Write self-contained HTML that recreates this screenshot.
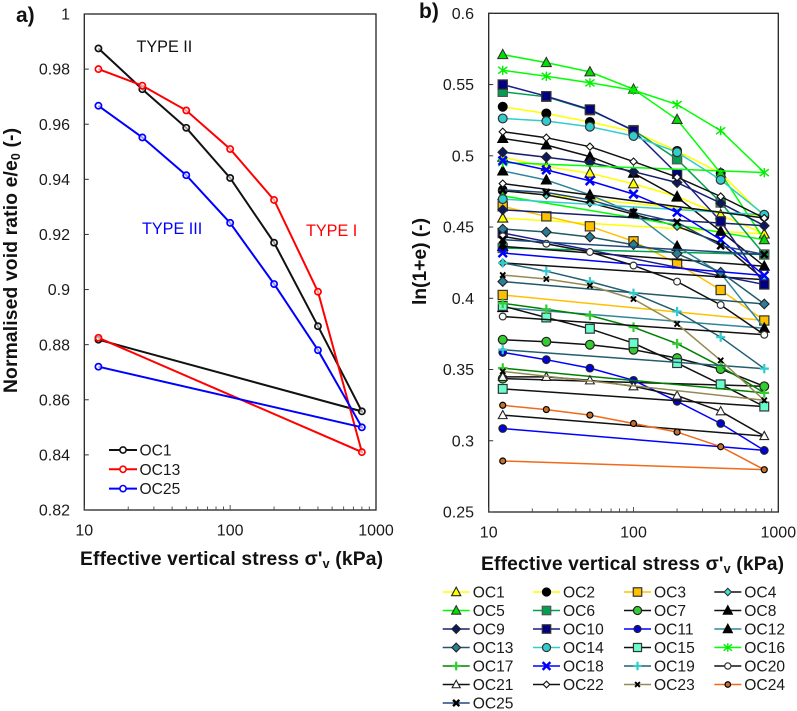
<!DOCTYPE html>
<html lang="en">
<head>
<meta charset="utf-8">
<title>Void ratio versus effective vertical stress</title>
<style>
html,body{margin:0;padding:0;background:#fff;}
svg{display:block;font-family:"Liberation Sans",Arial,sans-serif;fill:#1a1a1a;}
.tick{font-size:16px;}
.title{font-size:19.3px;font-weight:bold;fill:#111;}
.panel{font-size:21px;font-weight:bold;fill:#111;}
.lg{font-size:15.6px;}
</style>
</head>
<body>
<svg id="fig" width="797" height="711" viewBox="0 0 797 711" xmlns="http://www.w3.org/2000/svg">
  <rect x="0" y="0" width="797" height="711" fill="#fff"/>
  <text class="panel" x="16" y="22">a)</text>
  <text class="panel" x="419" y="18">b)</text>
  <text class="title" transform="translate(17,393) rotate(-90)" x="0" y="0" textLength="265">Normalised void ratio e/e<tspan font-size="12.5" dy="3">0</tspan><tspan dy="-3"> (-)</tspan></text>
  <text class="title" transform="translate(426,305) rotate(-90)" x="0" y="0" textLength="87">ln(1+e) (-)</text>
  <text class="title" x="80" y="565" textLength="303">Effective vertical stress σ'<tspan font-size="12.5" dy="3">v</tspan><tspan dy="-3"> (kPa)</tspan></text>
  <text class="title" x="481" y="570" textLength="303">Effective vertical stress σ'<tspan font-size="12.5" dy="3">v</tspan><tspan dy="-3"> (kPa)</tspan></text>
  <text x="136.5" y="52" font-size="16.2" fill="#111">TYPE II</text>
  <text x="142" y="234" font-size="16.2" fill="#0000ff">TYPE III</text>
  <text x="306" y="236" font-size="16.2" fill="#ff0000">TYPE I</text>
  <g id="plotA"></g>
  <g id="plotB"></g>
  <g id="legendA"></g>
  <g id="legendB"></g>
</svg>
<script>
// ---- shared x values (loading path, then unloading back to 12.5 kPa)
const stress = [12.5, 25, 50, 100, 200, 400, 800, 12.5];
const xTickLabels = [10, 100, 1000];

// ---- panel a data
const normalisedOC1 = [0.9875, 0.9727, 0.9587, 0.9405, 0.917, 0.8867, 0.8558, 0.8818];
const normalisedOC13 = [0.98, 0.974, 0.965, 0.951, 0.9325, 0.8992, 0.841, 0.8825];
const normalisedOC25 = [0.9667, 0.9552, 0.9415, 0.9242, 0.902, 0.878, 0.85, 0.872];
const yTicksA = [0.82, 0.84, 0.86, 0.88, 0.9, 0.92, 0.94, 0.96, 0.98, 1];
const seriesNamesA = ["OC1", "OC13", "OC25"];
const seriesValuesA = [normalisedOC1, normalisedOC13, normalisedOC25];

// ---- panel b data
const OC1 = [0.499, 0.4924, 0.4878, 0.4803, 0.4714, 0.4586, 0.4451, 0.4563];
const OC2 = [0.5344, 0.5297, 0.5237, 0.517, 0.5034, 0.4878, 0.4575, 0.4756];
const OC3 = [0.4645, 0.4575, 0.4505, 0.44, 0.4244, 0.4058, 0.3844, 0.4023];
const OC4 = [0.4755, 0.4725, 0.467, 0.459, 0.4505, 0.4388, 0.413, 0.4248];
const OC5 = [0.571, 0.5654, 0.5589, 0.5467, 0.5255, 0.4878, 0.4411, 0.4719];
const OC6 = [0.5449, 0.5414, 0.532, 0.518, 0.4976, 0.4672, 0.4307, 0.4353];
const OC7 = [0.3709, 0.3695, 0.3674, 0.3639, 0.358, 0.3503, 0.3382, 0.3436];
const OC8 = [0.5122, 0.5076, 0.4994, 0.4878, 0.471, 0.447, 0.4225, 0.4365];
const OC9 = [0.5025, 0.499, 0.4952, 0.4889, 0.4812, 0.4668, 0.4509, 0.4621];
const OC10 = [0.55, 0.5418, 0.5325, 0.5176, 0.4873, 0.454, 0.4097, 0.4458];
const OC11 = [0.362, 0.3569, 0.351, 0.3424, 0.3277, 0.3121, 0.2932, 0.3086];
const OC12 = [0.4894, 0.483, 0.4726, 0.4598, 0.4365, 0.4175, 0.379, 0.3935];
const OC13 = [0.4486, 0.4465, 0.443, 0.4376, 0.4313, 0.4183, 0.396, 0.4117];
const OC14 = [0.5262, 0.5244, 0.5204, 0.5139, 0.5025, 0.4831, 0.4586, 0.4696];
const OC15 = [0.3946, 0.3865, 0.3786, 0.3685, 0.3545, 0.3396, 0.324, 0.3364];
const OC16 = [0.56, 0.5558, 0.5512, 0.546, 0.536, 0.5176, 0.4882, 0.4952];
const OC17 = [0.3965, 0.3923, 0.3879, 0.3797, 0.3681, 0.3522, 0.3336, 0.351];
const OC18 = [0.4966, 0.4901, 0.4824, 0.4731, 0.4603, 0.4411, 0.416, 0.4318];
const OC19 = [0.4248, 0.419, 0.4117, 0.4035, 0.3907, 0.3727, 0.3506, 0.3639];
const OC20 = [0.4435, 0.4383, 0.4325, 0.423, 0.4117, 0.3953, 0.3744, 0.3872];
const OC21 = [0.3448, 0.3448, 0.3424, 0.3382, 0.3317, 0.3207, 0.3033, 0.318];
const OC22 = [0.5169, 0.5127, 0.5064, 0.4959, 0.485, 0.4714, 0.4563, 0.4805];
const OC23 = [0.4163, 0.4135, 0.4089, 0.3995, 0.382, 0.3564, 0.3284, 0.3487];
const OC24 = [0.3249, 0.3219, 0.318, 0.3121, 0.3061, 0.2958, 0.2797, 0.2858];
const OC25 = [0.4761, 0.4742, 0.4691, 0.4603, 0.4533, 0.4369, 0.4307, 0.4411];
const yTicksB = [0.25, 0.3, 0.35, 0.4, 0.45, 0.5, 0.55, 0.6];
const seriesNamesB = ["OC1","OC2","OC3","OC4","OC5","OC6","OC7","OC8","OC9","OC10","OC11","OC12","OC13","OC14","OC15","OC16","OC17","OC18","OC19","OC20","OC21","OC22","OC23","OC24","OC25"];
const seriesValuesB = [OC1,OC2,OC3,OC4,OC5,OC6,OC7,OC8,OC9,OC10,OC11,OC12,OC13,OC14,OC15,OC16,OC17,OC18,OC19,OC20,OC21,OC22,OC23,OC24,OC25];

// ---- styling, separate from the data
const stylesA = {
  OC1: "#111111",
  OC13: "#ff0000",
  OC25: "#0000ff"
};
const stylesB = {
  OC1:  {line:"#ffff00", kind:"triangle", fill:"#ffff00", edge:"#222", size:5},
  OC2:  {line:"#ffff00", kind:"circle",   fill:"#000",    edge:"#000", size:4.4},
  OC3:  {line:"#ffc000", kind:"square",   fill:"#ffc000", edge:"#333", size:4.6},
  OC4:  {line:"#111",    kind:"diamond",  fill:"#40e0d0", edge:"#333", size:4},
  OC5:  {line:"#00ff00", kind:"triangle", fill:"#00e000", edge:"#333", size:5},
  OC6:  {line:"#00a050", kind:"square",   fill:"#00a050", edge:"#555", size:4.6},
  OC7:  {line:"#111",    kind:"circle",   fill:"#33cc33", edge:"#222", size:4.4},
  OC8:  {line:"#111",    kind:"triangle", fill:"#000",    edge:"#000", size:5},
  OC9:  {line:"#16206a", kind:"diamond",  fill:"#0a1a60", edge:"#222", size:4.8},
  OC10: {line:"#1c1c8a", kind:"square",   fill:"#000080", edge:"#333", size:4.6},
  OC11: {line:"#0000ff", kind:"circle",   fill:"#0000e0", edge:"#222", size:3.8},
  OC12: {line:"#31859c", kind:"triangle", fill:"#000",    edge:"#000", size:5},
  OC13: {line:"#215968", kind:"diamond",  fill:"#2c7d96", edge:"#222", size:4.8},
  OC14: {line:"#33cccc", kind:"circle",   fill:"#33cccc", edge:"#333", size:4.4},
  OC15: {line:"#111",    kind:"square",   fill:"#66ffcc", edge:"#333", size:4.4},
  OC16: {line:"#00ff00", kind:"star",     fill:"none",    edge:"#00ee00", size:4.6},
  OC17: {line:"#008000", kind:"plus",     fill:"none",    edge:"#33cc33", size:4.8},
  OC18: {line:"#0000ff", kind:"cross",    fill:"none",    edge:"#0000ff", size:4.2},
  OC19: {line:"#215e70", kind:"plus",     fill:"none",    edge:"#33cccc", size:4.6},
  OC20: {line:"#111",    kind:"circle",   fill:"#fff",    edge:"#333", size:3.4},
  OC21: {line:"#111",    kind:"triangle", fill:"#fff",    edge:"#222", size:4.4},
  OC22: {line:"#111",    kind:"diamond",  fill:"#fff",    edge:"#111", size:3.6},
  OC23: {line:"#948a54", kind:"smallx",   fill:"none",    edge:"#000", size:2.6},
  OC24: {line:"#f06a1a", kind:"circle",   fill:"#c87028", edge:"#000", size:3},
  OC25: {line:"#1f497d", kind:"cross",    fill:"none",    edge:"#000", size:3.4}
};

const SVGNS = "http://www.w3.org/2000/svg";
function mk(parent, tag, attrs, txt) {
  const el = document.createElementNS(SVGNS, tag);
  for (const k in attrs) el.setAttribute(k, attrs[k]);
  if (txt !== undefined) el.textContent = txt;
  parent.appendChild(el);
  return el;
}

// axis scales
const axisA = {left:84.3, right:376, top:14, bottom:510, yMin:0.82, yMax:1};
const axisB = {left:488.7, right:778.3, top:13.3, bottom:512, yMin:0.25, yMax:0.6};
function xScale(ax, v) { return ax.left + (Math.log10(v) - 1) / 2 * (ax.right - ax.left); }
function yScale(ax, v) { return ax.bottom - (v - ax.yMin) / (ax.yMax - ax.yMin) * (ax.bottom - ax.top); }

function drawAxes(g, ax, yTicks, labelRight, yDecimals, xLabelY) {
  const frame = mk(g, "rect", {x:ax.left, y:ax.top, width:ax.right-ax.left, height:ax.bottom-ax.top, fill:"none", stroke:"#222", "stroke-width":1.3});
  
  
  yTicks.forEach(function (t) {
    const y = yScale(ax, t);
    const tk = mk(g, "line", {x1:ax.left, x2:ax.left+4.5, y1:y, y2:y, stroke:"#333", "stroke-width":1});
    
    
    const lab = mk(g, "text", {"class":"tick", x:labelRight, y:y+5.6, "text-anchor":"end"}, String(t));
    
    
  });
  for (let dec = 10; dec < 1000; dec *= 10) {
    for (let m = 1; m < 10; m++) {
      const v = dec * m;
      const x = xScale(ax, v);
      const len = m === 1 ? 5 : 3.5;
      const tk = mk(g, "line", {x1:x, x2:x, y1:ax.bottom, y2:ax.bottom-len, stroke:"#444", "stroke-width":0.9});
      
      
    }
  }
  xTickLabels.forEach(function (t) {
    const lab = mk(g, "text", {"class":"tick", x:xScale(ax, t), y:xLabelY, "text-anchor":"middle"}, String(t));
    
    
  });
}

function drawMarker(g, kind, x, y, fill, edge, s) {
  let el;
  if (kind === "circle") {
    el = mk(g, "circle", {cx:x, cy:y, r:s, fill:fill, stroke:edge, "stroke-width":1.2});
  } else if (kind === "square") {
    el = mk(g, "rect", {x:x-s, y:y-s, width:2*s, height:2*s, fill:fill, stroke:edge, "stroke-width":1.2});
  } else if (kind === "triangle") {
    el = mk(g, "polygon", {points:(x)+","+(y-s*1.05)+" "+(x+s)+","+(y+s*0.8)+" "+(x-s)+","+(y+s*0.8), fill:fill, stroke:edge, "stroke-width":1.1});
  } else if (kind === "diamond") {
    el = mk(g, "polygon", {points:x+","+(y-s)+" "+(x+s)+","+y+" "+x+","+(y+s)+" "+(x-s)+","+y, fill:fill, stroke:edge, "stroke-width":1.1});
  } else if (kind === "plus") {
    el = mk(g, "path", {d:"M"+(x-s)+" "+y+"H"+(x+s)+"M"+x+" "+(y-s)+"V"+(y+s), fill:"none", stroke:edge, "stroke-width":2.2});
  } else if (kind === "cross" || kind === "smallx") {
    el = mk(g, "path", {d:"M"+(x-s)+" "+(y-s)+"L"+(x+s)+" "+(y+s)+"M"+(x+s)+" "+(y-s)+"L"+(x-s)+" "+(y+s), fill:"none", stroke:edge, "stroke-width":kind === "cross" ? 2.5 : 1.9});
  } else {
    el = mk(g, "path", {d:"M"+(x-s)+" "+(y-s*0.75)+"L"+(x+s)+" "+(y+s*0.75)+"M"+(x+s)+" "+(y-s*0.75)+"L"+(x-s)+" "+(y+s*0.75)+"M"+x+" "+(y-s)+"V"+(y+s), fill:"none", stroke:edge, "stroke-width":1.4});
  }
  return el;
}

// ---- panel a
const plotA = document.getElementById("plotA");
drawAxes(plotA, axisA, yTicksA, 70, 2, 535.5);
seriesValuesA.forEach(function (vals, i) {
  const name = seriesNamesA[i];
  const col = stylesA[name];
  const g = mk(plotA, "g", {});
  
  
  const pts = vals.map(function (v, j) { return xScale(axisA, stress[j]).toFixed(1) + "," + yScale(axisA, v).toFixed(1); }).join(" ");
  const pl = mk(g, "polyline", {points:pts, fill:"none", stroke:col, "stroke-width":2});
  
  
  vals.forEach(function (v, j) {
    const c = mk(g, "circle", {cx:xScale(axisA, stress[j]), cy:yScale(axisA, v), r:3.1, fill:"#fff", "fill-opacity":0.6, stroke:col, "stroke-width":1.7});
    
    
  });
});
const legendA = document.getElementById("legendA");
seriesNamesA.forEach(function (name, i) {
  const col = stylesA[name];
  const y = 450 + i * 19.3;
  const g = mk(legendA, "g", {});
  
  
  mk(g, "line", {x1:109, x2:137, y1:y, y2:y, stroke:col, "stroke-width":2});
  mk(g, "circle", {cx:123, cy:y, r:3.1, fill:"#fff", stroke:col, "stroke-width":1.6});
  mk(g, "text", {"class":"lg", x:139.5, y:y+5.5}, name);
});

// ---- panel b
const plotB = document.getElementById("plotB");
drawAxes(plotB, axisB, yTicksB, 474, 2, 537.5);
seriesValuesB.forEach(function (vals, i) {
  const name = seriesNamesB[i];
  const st = stylesB[name];
  const g = mk(plotB, "g", {});
  
  
  const pts = vals.map(function (v, j) { return xScale(axisB, stress[j]).toFixed(1) + "," + yScale(axisB, v).toFixed(1); }).join(" ");
  const pl = mk(g, "polyline", {points:pts, fill:"none", stroke:st.line, "stroke-width":1.5});
  
  
  vals.forEach(function (v, j) {
    const m = drawMarker(g, st.kind, xScale(axisB, stress[j]), yScale(axisB, v), st.fill, st.edge, st.size);
    
    
  });
});
const legendB = document.getElementById("legendB");
const legendColumnStart = [442.7, 533, 624, 714.3];
seriesNamesB.forEach(function (name, i) {
  const st = stylesB[name];
  const col = i % 4;
  const row = Math.floor(i / 4);
  const x0 = legendColumnStart[col];
  const y = 592 + row * 18.5;
  const g = mk(legendB, "g", {});
  
  
  mk(g, "line", {x1:x0, x2:x0+27, y1:y, y2:y, stroke:st.line, "stroke-width":1.5});
  drawMarker(g, st.kind, x0+13.5, y, st.fill, st.edge, st.size * 0.92);
  mk(g, "text", {"class":"lg", x:x0+30, y:y+5.5}, name);
});
</script>
</body>
</html>
